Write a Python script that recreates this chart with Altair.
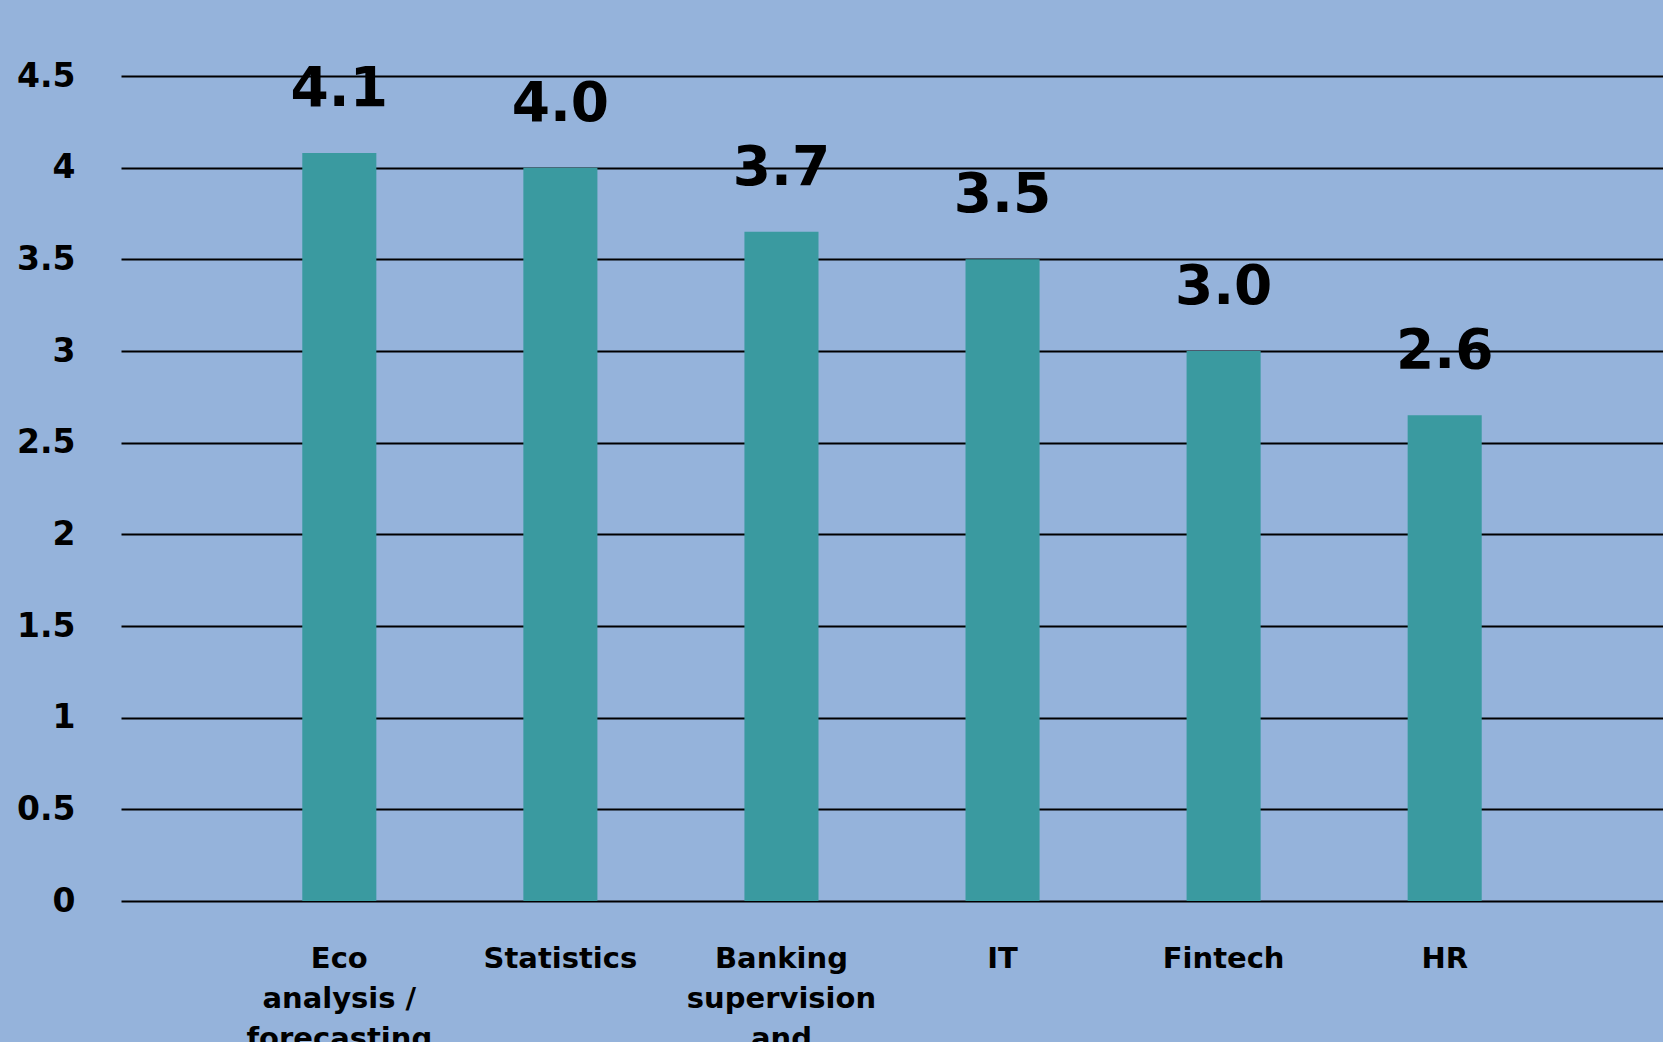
import altair as alt
import pandas as pd

categories = ["Eco|analysis /|forecasting", "Statistics", "Banking|supervision|and|regulation", "IT", "Fintech", "HR"]
values = [4.08, 4.0, 3.65, 3.5, 3.0, 2.65]
value_labels = ["4.1", "4.0", "3.7", "3.5", "3.0", "2.6"]
y_ticks = [0, 0.5, 1, 1.5, 2, 2.5, 3, 3.5, 4, 4.5]

df = pd.DataFrame({"cat": categories, "val": values, "lab": value_labels})

FONT = "DejaVu Sans"
BG = "#95b3db"
BAR = "#3a9aa0"

x = alt.X("cat:N", sort=categories, title=None,
          scale=alt.Scale(paddingInner=0.665, paddingOuter=0.82),
          axis=alt.Axis(labelExpr="split(datum.label, '|')", labelAngle=0,
                        labelFontSize=29, labelFont=FONT, labelFontWeight="bold",
                        labelColor="black", labelBaseline="top", labelPadding=43,
                        labelLineHeight=40, labelLimit=0, ticks=False, domain=False, grid=False))
y = alt.Y("val:Q", title=None,
          scale=alt.Scale(domain=[0, 4.5], nice=False, zero=True),
          axis=alt.Axis(values=y_ticks, format=".1~f", labelFontSize=33, labelFont=FONT,
                        labelFontWeight="bold", labelColor="black", labelPadding=46,
                        ticks=False, domain=False, grid=True, gridColor="black",
                        gridWidth=1.8, gridOpacity=1))

bars = alt.Chart(df).mark_bar(color=BAR, clip=False).encode(x=x, y=y)
labels = alt.Chart(df).mark_text(font=FONT, fontWeight="bold", fontSize=55, color="black",
                                 baseline="alphabetic", dy=-47, clip=False).encode(
    x=alt.X("cat:N", sort=categories), y=alt.Y("val:Q"), text="lab:N")

chart = alt.layer(bars, labels).properties(
    width=1542, height=825, background=BG,
    autosize=alt.AutoSizeParams(type="none"),
    padding={"left": 121, "top": 76, "right": 0, "bottom": 141},
).configure_view(stroke=None)

chart.save("out.html", embed_options={"renderer": "svg", "actions": False})
